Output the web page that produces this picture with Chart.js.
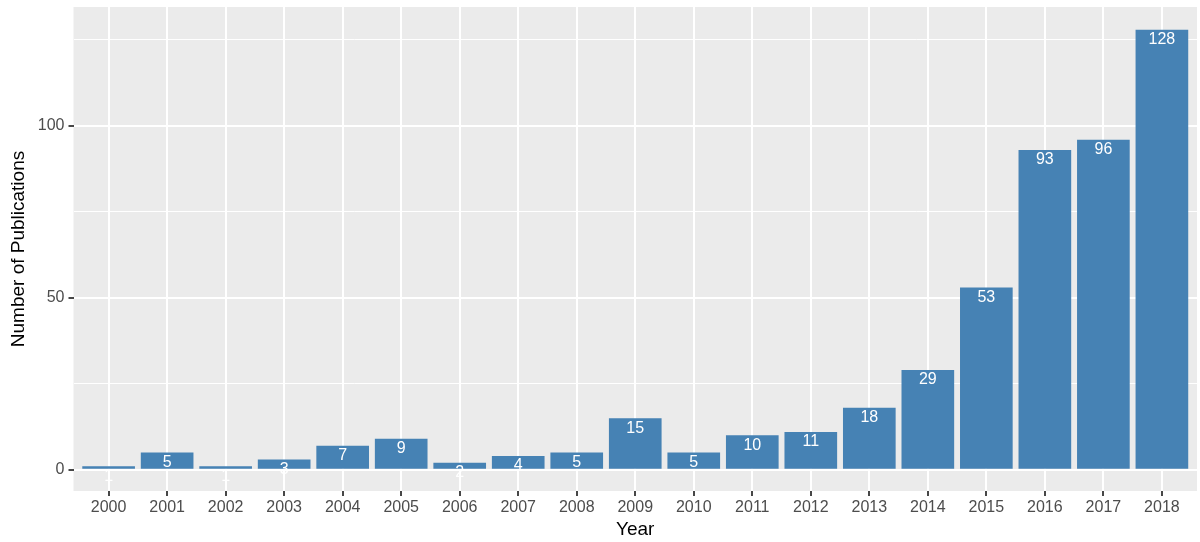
<!DOCTYPE html>
<html>
<head>
<meta charset="utf-8">
<script src="https://cdn.jsdelivr.net/npm/chart.js@4/dist/chart.umd.min.js"></script>
<style>
  html, body { margin: 0; padding: 0; background: #ffffff; }
  #wrap { width: 1200px; height: 542px; position: relative; }
</style>
</head>
<body>
<div id="wrap"><canvas id="graphCanvas"></canvas></div>
<script>
var years = ['2000', '2001', '2002', '2003', '2004', '2005', '2006', '2007', '2008', '2009',
             '2010', '2011', '2012', '2013', '2014', '2015', '2016', '2017', '2018'];
var publications = [1, 5, 1, 3, 7, 9, 2, 4, 5, 15, 5, 10, 11, 18, 29, 53, 93, 96, 128];
var yTickLabels = [0, 50, 100];
var yMinorTicks = [25, 75, 125];

var fontFamily = '"Liberation Sans", Arial, Helvetica, sans-serif';

// grey ggplot-like panel behind the plot
var panelBackground = {
    id: 'panelBackground',
    beforeDraw: function (chart) {
        var a = chart.chartArea;
        var ctx = chart.ctx;
        ctx.save();
        ctx.fillStyle = '#EBEBEB';
        ctx.fillRect(a.left, a.top, a.right - a.left, a.bottom - a.top);
        ctx.restore();
    }
};

// white count inside the top of every bar
var barLabels = {
    id: 'barLabels',
    afterDatasetsDraw: function (chart) {
        var ctx = chart.ctx;
        var meta = chart.getDatasetMeta(0);
        ctx.save();
        ctx.fillStyle = '#FFFFFF';
        ctx.font = '16px ' + fontFamily;
        ctx.textAlign = 'center';
        ctx.textBaseline = 'middle';
        meta.data.forEach(function (bar, i) {
            ctx.fillText(String(publications[i]), bar.x, bar.y + 10);
        });
        ctx.restore();
    }
};

var points = [];
for (var i in publications) {
    points.push({ x: Number(i), y: publications[i] });
}

var chartdata = {
    datasets: [
        {
            label: 'Publications',
            backgroundColor: '#4682B4',
            borderWidth: 0,
            barPercentage: 0.9,
            categoryPercentage: 1.0,
            data: points
        }
    ]
};

var barGraph = new Chart(document.getElementById('graphCanvas'), {
    type: 'bar',
    data: chartdata,
    plugins: [panelBackground, barLabels],
    options: {
        responsive: true,
        maintainAspectRatio: false,
        animation: false,
        layout: { padding: { top: 7, right: 3, left: 0, bottom: 0 } },
        plugins: {
            legend: { display: false },
            tooltip: { enabled: false }
        },
        scales: {
            x: {
                type: 'linear',
                min: -0.6,
                max: 18.6,
                offset: false,
                afterBuildTicks: function (scale) {
                    scale.ticks = years.map(function (y, idx) { return { value: idx }; });
                },
                afterFit: function (scale) {
                    scale.height = 51;
                    scale.paddingLeft = 0;
                    scale.paddingRight = 0;
                },
                border: { display: false },
                grid: {
                    offset: false,
                    color: '#FFFFFF',
                    lineWidth: 2,
                    tickColor: '#333333',
                    tickLength: 5,
                    tickWidth: 1.8
                },
                ticks: {
                    color: '#4D4D4D',
                    font: { family: fontFamily, size: 16 },
                    padding: 2,
                    maxRotation: 0,
                    autoSkip: false,
                    callback: function (v) { return years[v]; }
                },
                title: {
                    display: true,
                    text: 'Year',
                    color: '#000000',
                    font: { family: fontFamily, size: 19 },
                    padding: { top: 0, bottom: 1 }
                }
            },
            y: {
                min: -6.2,
                max: 134.6,
                afterBuildTicks: function (scale) {
                    scale.ticks = yTickLabels.concat(yMinorTicks)
                        .sort(function (a, b) { return a - b; })
                        .map(function (v) { return { value: v }; });
                },
                afterFit: function (scale) {
                    scale.width = 73.5;
                    scale.paddingTop = 0;
                    scale.paddingBottom = 0;
                },
                border: { display: false },
                grid: {
                    color: '#FFFFFF',
                    lineWidth: function (ctx) {
                        return yTickLabels.indexOf(ctx.tick.value) >= 0 ? 2 : 1;
                    },
                    tickColor: function (ctx) {
                        return yTickLabels.indexOf(ctx.tick.value) >= 0 ? '#333333' : 'rgba(0,0,0,0)';
                    },
                    tickLength: 5,
                    tickWidth: 1.8
                },
                ticks: {
                    color: '#4D4D4D',
                    font: { family: fontFamily, size: 16 },
                    padding: 4,
                    callback: function (v) {
                        return yTickLabels.indexOf(v) >= 0 ? String(v) : '';
                    }
                },
                title: {
                    display: true,
                    text: 'Number of Publications',
                    color: '#000000',
                    font: { family: fontFamily, size: 19 },
                    padding: { top: 7, bottom: 0 }
                }
            }
        }
    }
});
</script>
</body>
</html>
